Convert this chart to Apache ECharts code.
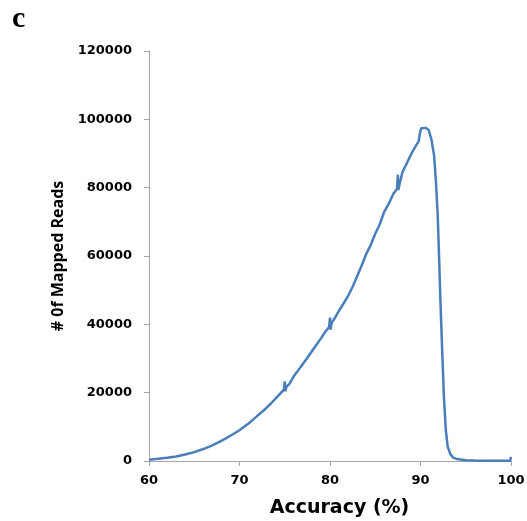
<!DOCTYPE html>
<html>
<head>
<meta charset="utf-8">
<script src="https://cdn.jsdelivr.net/npm/echarts@6/dist/echarts.min.js"></script>
<style>
  html, body { margin: 0; padding: 0; background: #fff; overflow: hidden; }
  #chart { width: 527px; height: 521px; }
</style>
</head>
<body>
<div id="chart"></div>
<script>
// Accuracy (%) of each mapped read
const accuracy = [
  60, 61, 62, 63, 64, 65, 66, 67, 68, 69,
  70, 70.5, 71, 71.5, 72, 72.5, 73, 73.5, 74, 74.5,
  74.9, 75, 75.05, 75.2, 75.5, 76, 76.5, 77, 77.5, 78,
  78.5, 79, 79.5, 79.9, 80, 80.05, 80.2, 80.5, 81, 81.5,
  82, 82.5, 83, 83.5, 84, 84.5, 85, 85.5, 86, 86.5,
  87, 87.4, 87.5, 87.55, 87.7, 88, 88.5, 89, 89.5, 89.8,
  89.9, 90, 90.1, 90.3, 90.6, 90.9, 91.2, 91.5, 91.7, 91.9,
  92.05, 92.2, 92.4, 92.6, 92.8, 93, 93.3, 93.6, 94, 95,
  96, 97, 98, 99, 99.9, 100
];

// Number of mapped reads at each accuracy value
const mappedReads = [
  400, 650, 950, 1300, 1900, 2600, 3500, 4600, 5900, 7400,
  9000, 10000, 11000, 12100, 13300, 14400, 15600, 16900, 18300, 19700,
  20900, 23300, 20400, 21800, 22500, 24800, 26600, 28400, 30200, 32100,
  34000, 35900, 37900, 39200, 42000, 38400, 40500, 41700, 44000, 46100,
  48300, 51000, 54100, 57200, 60600, 63200, 66500, 69300, 73000, 75300,
  78200, 79600, 83800, 79300, 81200, 84500, 87200, 90000, 92300, 93600,
  95400, 96700, 97400, 97200, 97500, 96900, 94200, 89500, 82000, 72000,
  60000, 47000, 32000, 18000, 9000, 4300, 2000, 1000, 600, 250,
  150, 100, 80, 60, 50, 1200
];

// Axis tick values
const xTicks = [60, 70, 80, 90, 100];
const yTicks = [0, 20000, 40000, 60000, 80000, 100000, 120000];

const chart = echarts.init(document.getElementById('chart'), null, { renderer: 'canvas' });

const axisGray = '#a6a6a6';
const tickFont = { fontFamily: 'DejaVu Sans', fontWeight: 'bold', fontSize: 13, color: '#000' };

chart.setOption({
  animation: false,
  backgroundColor: '#ffffff',
  grid: { left: 149, right: 16, top: 51, bottom: 60, containLabel: false, outerBoundsMode: 'none' },
  xAxis: {
    type: 'value',
    min: xTicks[0],
    max: xTicks[xTicks.length - 1],
    interval: 10,
    name: 'Accuracy (%)',
    nameLocation: 'middle',
    nameGap: 38,
    nameTextStyle: { fontFamily: 'DejaVu Sans', fontWeight: 'bold', fontSize: 19, color: '#000', padding: [0, 0, 0, 19] },
    axisLine: { show: true, lineStyle: { color: axisGray, width: 1 } },
    axisTick: { show: true, inside: false, length: 5, lineStyle: { color: axisGray } },
    axisLabel: Object.assign({ margin: 13, formatter: v => String(v) }, tickFont),
    splitLine: { show: false }
  },
  yAxis: {
    type: 'value',
    min: yTicks[0],
    max: yTicks[yTicks.length - 1],
    interval: 20000,
    name: '# 0f Mapped Reads',
    nameLocation: 'middle',
    nameGap: 72,
    nameRotate: 90,
    nameTextStyle: { fontFamily: 'Open Sans', fontWeight: 'bold', fontSize: 16, color: '#000' },
    axisLine: { show: true, lineStyle: { color: axisGray, width: 1 } },
    axisTick: { show: true, inside: false, length: 5, lineStyle: { color: axisGray } },
    axisLabel: Object.assign({ margin: 17, formatter: v => String(v) }, tickFont),
    splitLine: { show: false }
  },
  series: [{
    type: 'line',
    data: accuracy.map((a, i) => [a, mappedReads[i]]),
    showSymbol: false,
    smooth: false,
    lineStyle: { color: '#4a7ebb', width: 2.5 },
    clip: false
  }],
  graphic: [{
    type: 'text',
    left: 12,
    top: 4,
    style: { text: 'c', fontFamily: 'Liberation Serif', fontWeight: 'bold', fontSize: 30, fill: '#000' }
  }]
});
</script>
</body>
</html>
